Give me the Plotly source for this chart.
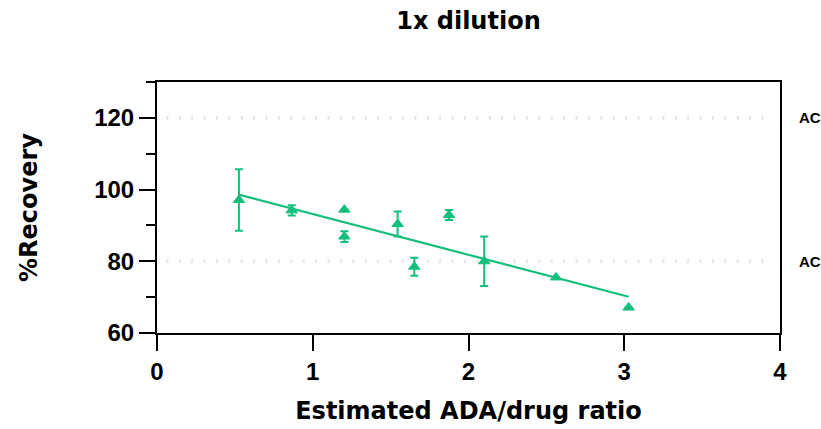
import plotly.graph_objects as go

# ---- data ----
ratio = [0.526, 0.865, 1.203, 1.203, 1.545, 1.652, 1.875, 2.101, 2.562, 3.028]
recovery = [97.1, 94.2, 94.4, 86.9, 90.4, 78.5, 92.9, 80.0, 75.5, 67.1]
recovery_sd = [8.6, 1.4, None, 1.5, 3.5, 2.5, 1.4, 6.9, None, None]

fit_x = [0.526, 3.028]
fit_y = [98.6, 70.1]

ref_values = [120, 80]
ref_labels = ["AC", "AC"]

x_ticks = [0, 1, 2, 3, 4]
y_ticks = [60, 80, 100, 120]

title_text = "1x dilution"
x_title = "Estimated ADA/drug ratio"
y_title = "%Recovery"

GREEN = "#14BF7B"
TICK_FONT = dict(family="Arial", size=24, color="black", weight="bold")
TITLE_FONT = dict(family="DejaVu Sans", size=24, color="black", weight="bold")

fig = go.Figure()

# reference lines (dotted)
for v in ref_values:
    fig.add_trace(go.Scatter(
        x=[0.06, 3.95], y=[v, v], mode="lines",
        line=dict(color="#e6e6e6", width=4, dash="2px,10.4px"),
        hoverinfo="skip", showlegend=False))

# regression line
fig.add_trace(go.Scatter(
    x=fit_x, y=fit_y, mode="lines",
    line=dict(color=GREEN, width=2.2), showlegend=False))

# points with error bars
fig.add_trace(go.Scatter(
    x=ratio, y=recovery, mode="markers",
    marker=dict(symbol="triangle-up", size=10, color=GREEN,
                line=dict(color=GREEN, width=1)),
    error_y=dict(type="data", array=recovery_sd, visible=True,
                 color=GREEN, thickness=2, width=4),
    showlegend=False))

for v, lab in zip(ref_values, ref_labels):
    fig.add_annotation(x=1, xref="paper", y=v, yref="y", text=lab,
                       showarrow=False, xanchor="left", yanchor="middle",
                       xshift=17,
                       font=dict(family="Arial", size=15, color="black",
                                 weight="bold"))

fig.update_layout(
    width=821, height=429,
    margin=dict(l=157, r=41, t=82, b=96, autoexpand=False),
    paper_bgcolor="white", plot_bgcolor="white",
    title=dict(text=title_text, x=0.5706, xref="container", xanchor="center",
               y=1 - 21 / 429, yref="container", yanchor="middle",
               font=TITLE_FONT),
)

fig.update_xaxes(
    range=[0, 4], tickvals=x_ticks, ticktext=[str(t) for t in x_ticks],
    showgrid=False, zeroline=False,
    showline=True, linecolor="black", linewidth=2, mirror=True,
    ticks="outside", ticklen=16, tickwidth=2, tickcolor="black",
    tickfont=TICK_FONT,
    title=dict(text=x_title, font=TITLE_FONT, standoff=18),
)

fig.update_yaxes(
    range=[60, 130], tickvals=y_ticks, ticktext=[str(t) for t in y_ticks],
    showgrid=False, zeroline=False,
    showline=True, linecolor="black", linewidth=2, mirror=True,
    ticks="outside", ticklen=16, tickwidth=2, tickcolor="black",
    tickfont=TICK_FONT,
    minor=dict(tickvals=[70, 90, 110, 130], ticks="outside", ticklen=9,
               tickwidth=2, tickcolor="black", showgrid=False),
    title=dict(text=y_title, font=TITLE_FONT, standoff=50),
)

fig.write_html("out.html",
               config={"displayModeBar": False},
               post_script="document.body.style.margin='0px';"
                           "document.body.style.overflow='hidden';")
